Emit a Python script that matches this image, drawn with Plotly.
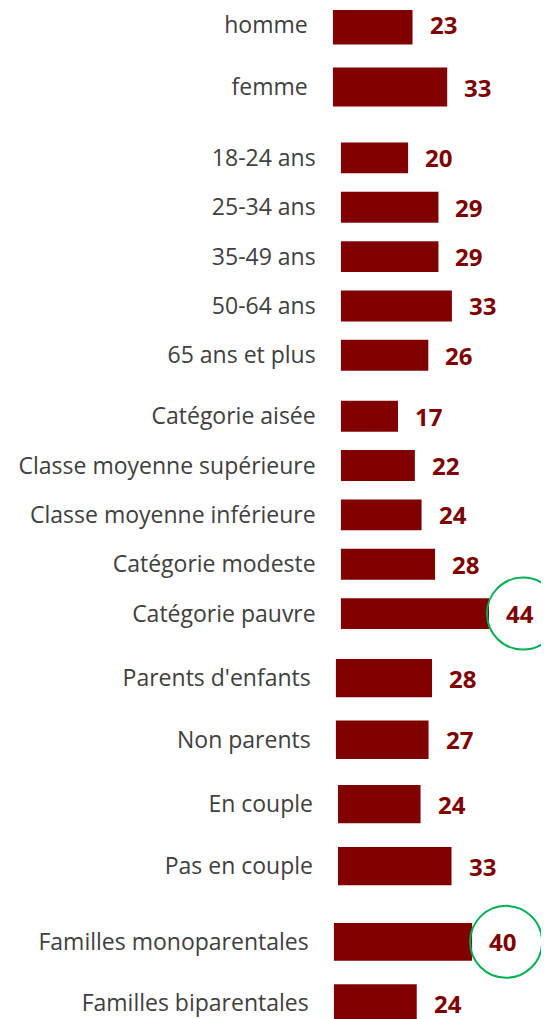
import plotly.graph_objects as go

# data
sexe_labels = ["homme", "femme"]
sexe_values = [23, 33]

age_labels = ["18-24 ans", "25-34 ans", "35-49 ans", "50-64 ans", "65 ans et plus"]
age_values = [20, 29, 29, 33, 26]

classe_labels = ["Catégorie aisée", "Classe moyenne supérieure", "Classe moyenne inférieure",
                 "Catégorie modeste", "Catégorie pauvre"]
classe_values = [17, 22, 24, 28, 44]

parents_labels = ["Parents d'enfants", "Non parents"]
parents_values = [28, 27]

couple_labels = ["En couple", "Pas en couple"]
couple_values = [24, 33]

familles_labels = ["Familles monoparentales", "Familles biparentales"]
familles_values = [40, 24]

highlighted = ["Catégorie pauvre", "Familles monoparentales"]

groups = [
    (sexe_labels, sexe_values),
    (age_labels, age_values),
    (classe_labels, classe_values),
    (parents_labels, parents_values),
    (couple_labels, couple_values),
    (familles_labels, familles_values),
]

# the page puts the figure 8px in from the top-left corner, so work in page pixels
# and convert to figure pixels with OFF
OFF = 8
W, H = 549 - OFF, 1019 - OFF

# block layout in page pixels: first bar centre, pitch, bar height, bar left, px per unit, extent
blocks = [
    dict(c0=23.0, pitch=62.2, bh=39, left=332.7, scale=3.47, top=OFF, bot=120),
    dict(c0=156.2, pitch=49.45, bh=31, left=340.7, scale=3.37, top=128, bot=382),
    dict(c0=415.0, pitch=49.45, bh=31, left=340.7, scale=3.37, top=388, bot=652),
    dict(c0=677.5, pitch=61.7, bh=38.4, left=335.7, scale=3.44, top=646, bot=771),
    dict(c0=803.7, pitch=62.1, bh=38.5, left=338.0, scale=3.44, top=773, bot=898),
    dict(c0=941.7, pitch=61.6, bh=38, left=333.7, scale=3.46, top=902, bot=1019),
]

BAR = "#800000"
VAL = "#7F0000"
LAB = "#404040"
GREEN = "#00B050"

fig = go.Figure()
annotations = []
shapes = []

for k, ((labels, values), b) in enumerate(zip(groups, blocks), start=1):
    xa = "x" if k == 1 else f"x{k}"
    ya = "y" if k == 1 else f"y{k}"
    left = b["left"] - OFF
    top, bot = b["top"] - OFF, b["bot"] - OFF
    c0 = b["c0"] - OFF
    fig.add_trace(go.Bar(
        x=values, y=labels, orientation="h",
        xaxis=xa, yaxis=ya,
        marker=dict(color=BAR, line=dict(width=0)),
        width=b["bh"] / b["pitch"],
        hoverinfo="x+y", showlegend=False,
    ))
    xkey = "xaxis" if k == 1 else f"xaxis{k}"
    ykey = "yaxis" if k == 1 else f"yaxis{k}"
    fig.update_layout(**{
        xkey: dict(domain=[left / W, 1], range=[0, (W - left) / b["scale"]],
                   anchor=ya, visible=False, showgrid=False, zeroline=False, fixedrange=True),
        ykey: dict(domain=[1 - bot / H, 1 - top / H],
                   range=[(bot - c0) / b["pitch"], (top - c0) / b["pitch"]],
                   anchor=xa, type="category", categoryorder="array", categoryarray=labels,
                   showgrid=False, zeroline=False, showline=False, ticks="",
                   ticklabelstandoff=24,
                   tickfont=dict(family="Open Sans", size=23, color=LAB), fixedrange=True),
    })
    for lab, v in zip(labels, values):
        annotations.append(dict(
            x=v, y=lab, xref=xa, yref=ya, text=str(v), showarrow=False,
            xanchor="left", yanchor="middle", xshift=15,
            font=dict(family="Open Sans", size=24, color=VAL, weight="bold"),
        ))
        if lab in highlighted:
            shapes.append(dict(
                type="circle", xref=xa, yref=ya,
                xsizemode="pixel", ysizemode="pixel",
                xanchor=v, yanchor=lab,
                x0=-2, x1=70, y0=-36, y1=36,
                line=dict(color=GREEN, width=2),
            ))

fig.update_layout(
    width=W, height=H,
    margin=dict(l=0, r=0, t=0, b=0),
    paper_bgcolor="white",
    plot_bgcolor="rgba(0,0,0,0)",
    annotations=annotations,
    shapes=shapes,
    showlegend=False,
)

fig.write_html("out.html")
